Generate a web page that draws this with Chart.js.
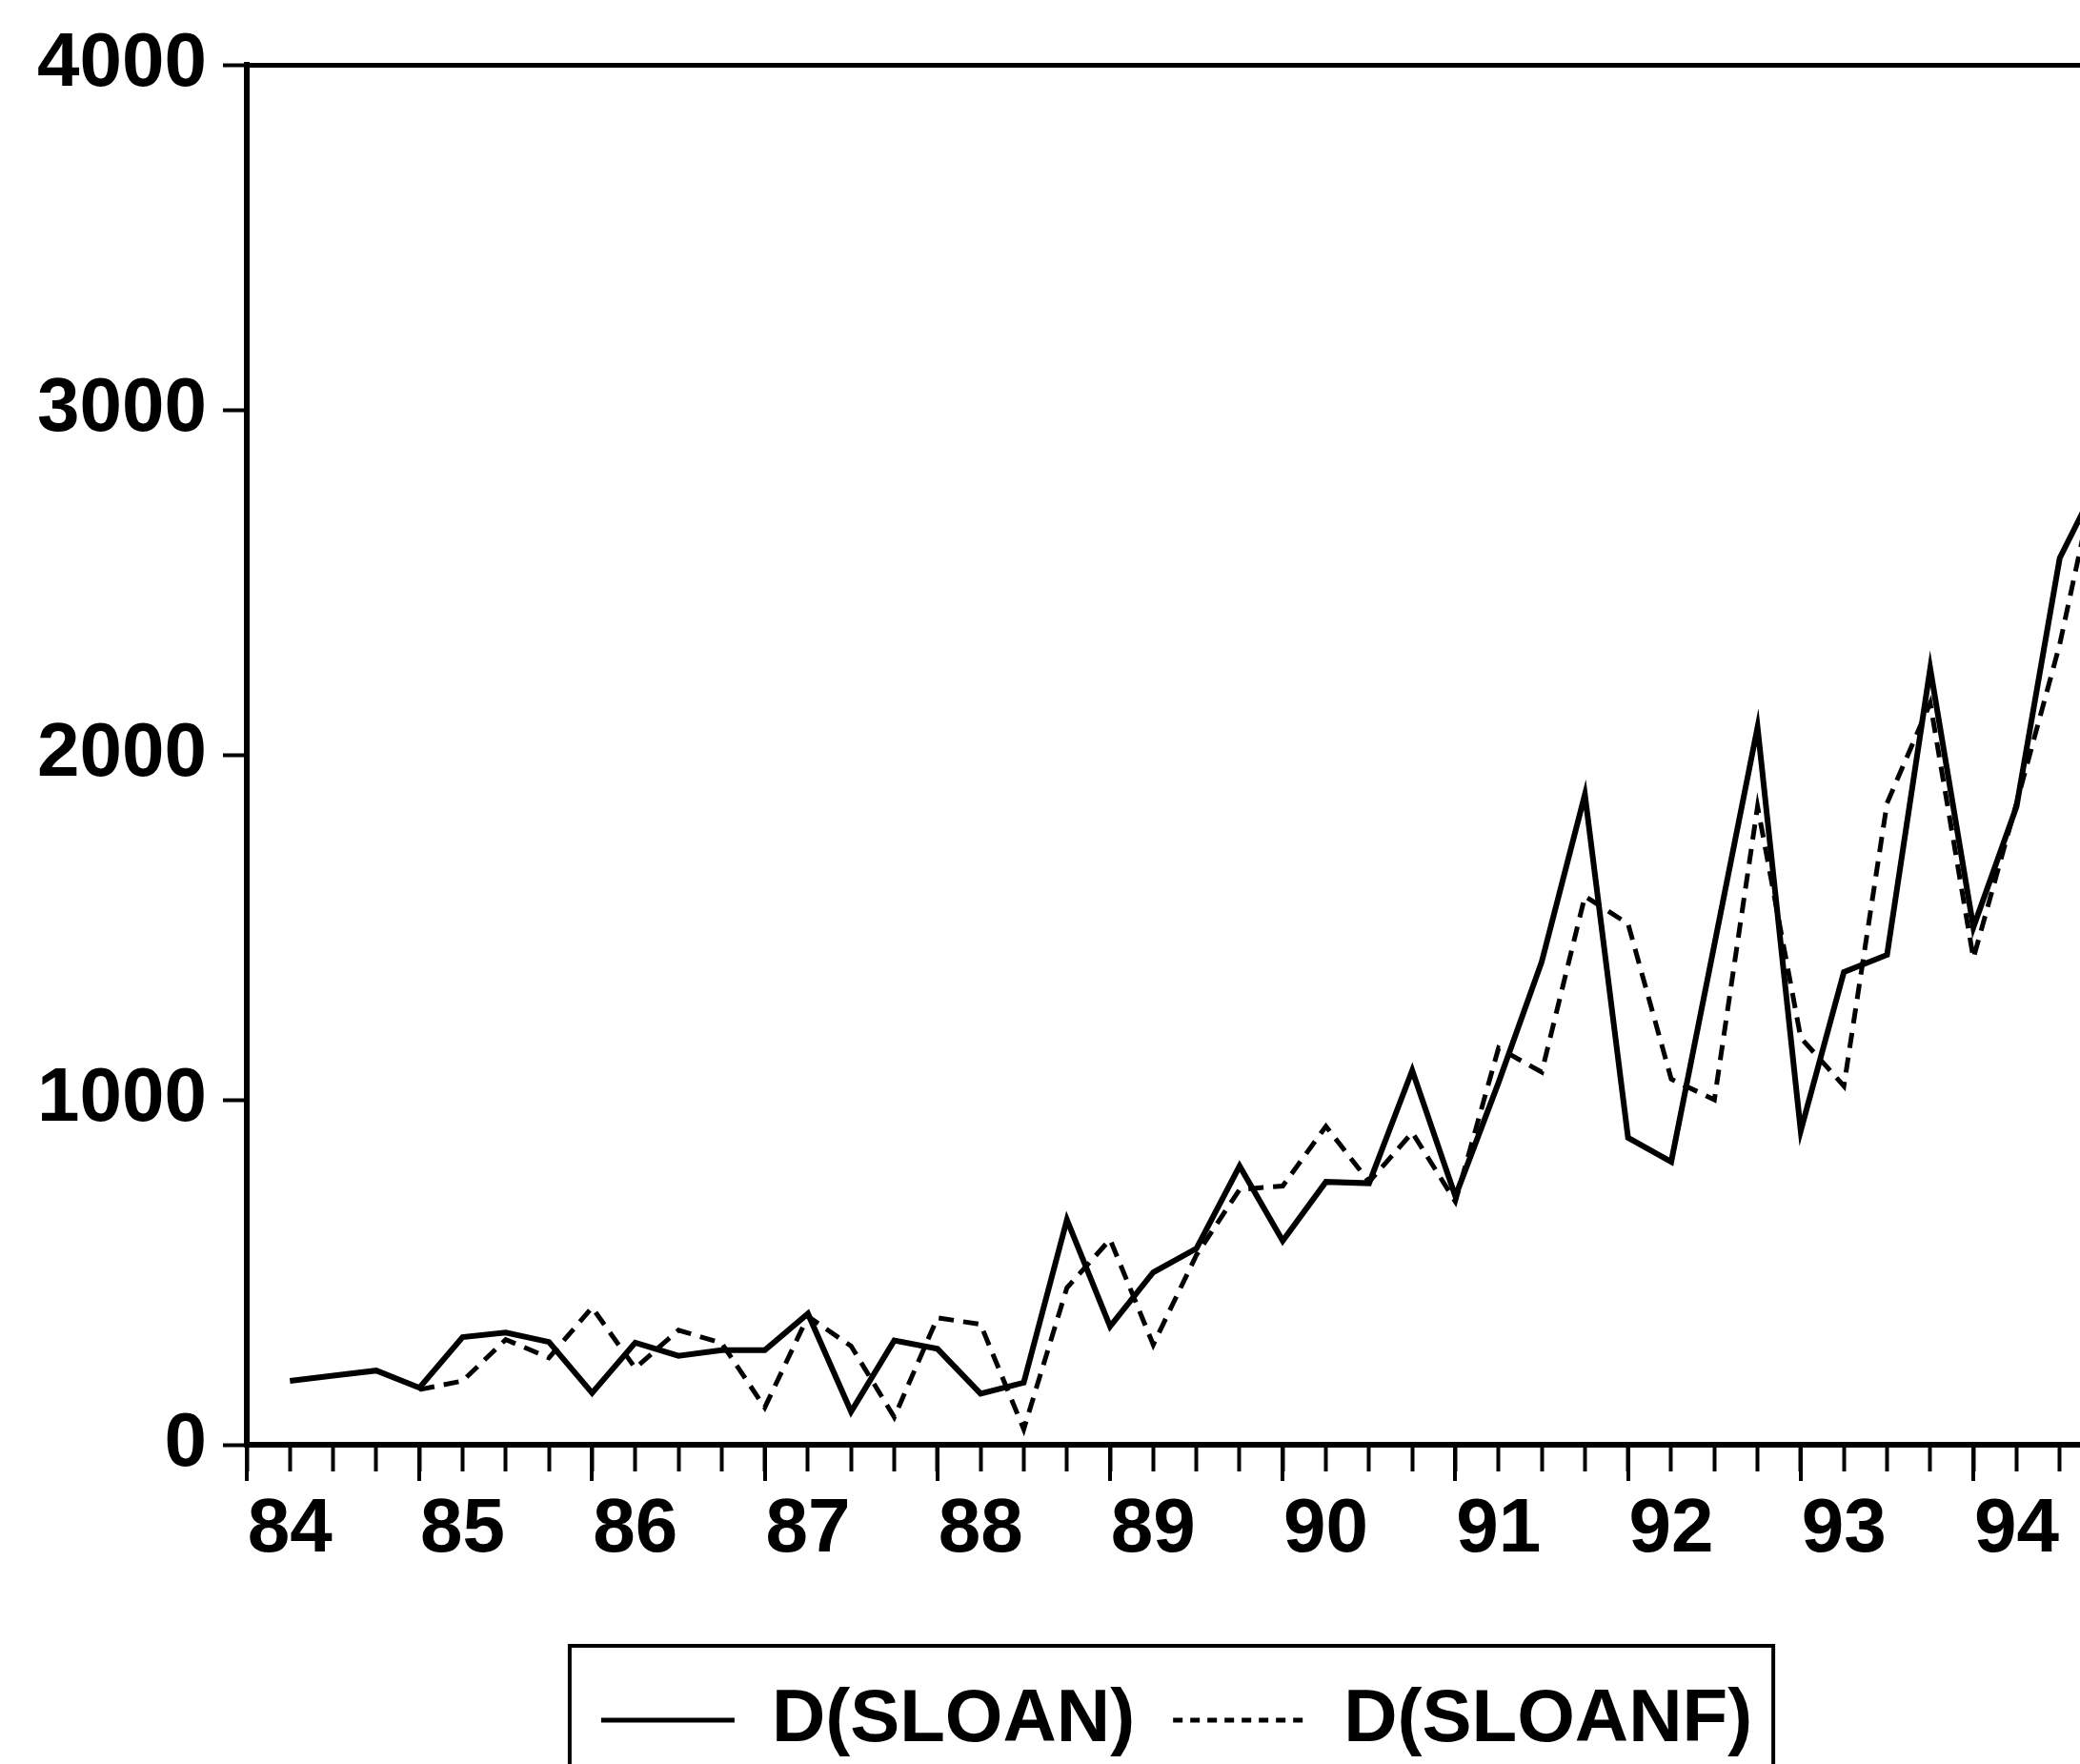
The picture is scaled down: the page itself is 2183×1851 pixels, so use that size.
<!DOCTYPE html>
<html>
<head>
<meta charset="utf-8">
<title>D(SLOAN) vs D(SLOANF)</title>
<script src="https://cdn.jsdelivr.net/npm/chart.js@4.4.1/dist/chart.umd.min.js"></script>
<style>
  html, body { margin: 0; padding: 0; background: #fff; }
  #wrap { width: 2183px; height: 1851px; position: relative; }
</style>
</head>
<body>
<div id="wrap"><canvas id="chart"></canvas></div>
<script>
// quarterly observations, 1984Q1 .. 1994Q4
const quarters = [
    '84Q1', '84Q2', '84Q3', '84Q4', '85Q1', '85Q2', '85Q3', '85Q4',
    '86Q1', '86Q2', '86Q3', '86Q4', '87Q1', '87Q2', '87Q3', '87Q4',
    '88Q1', '88Q2', '88Q3', '88Q4', '89Q1', '89Q2', '89Q3', '89Q4',
    '90Q1', '90Q2', '90Q3', '90Q4', '91Q1', '91Q2', '91Q3', '91Q4',
    '92Q1', '92Q2', '92Q3', '92Q4', '93Q1', '93Q2', '93Q3', '93Q4',
    '94Q1', '94Q2', '94Q3', '94Q4',
];
const yearLabels = ['84', '85', '86', '87', '88', '89', '90', '91', '92', '93', '94'];
const yTicks = [0, 1000, 2000, 3000, 4000];

const dSloan = [
    null, 185, 200, 215, 165, 312, 325, 298,
    150, 296, 258, 274, 274, 380, 96, 302,
    278, 148, 180, 652, 343, 500, 569, 808,
    591, 762, 758, 1085, 720, 1050, 1400, 1885,
    890, 820, 1450, 2080, 910, 1370, 1420, 2250,
    1500, 1850, 2570, 2820,
];
const dSloanF = [
    null, null, null, null, 160, 185, 305, 252,
    398, 222, 332, 295, 108, 372, 286, 80,
    368, 349, 45, 455, 595, 290, 550, 740,
    750, 923, 762, 905, 705, 1150, 1080, 1590,
    1510, 1060, 1000, 1850, 1180, 1040, 1860, 2150,
    1410, 1860, 2320, 2900,
];

const ink = '#000';
const font = { family: "'Liberation Sans', Arial, sans-serif", size: 80, weight: 'bold' };

// the scan is cropped on the right, roughly half way into 94Q3
const xMax = 42.47;
const plotBottom = 1516;
const legendSize = 78;
const legendPad = 40;
// Chart.js sizes a bottom legend as item height + padding + 10
const legendHeight = legendSize + legendPad + 10;
const legendShift = { x: 14, y: 3 };

const toPoints = (arr) => arr.map((v, i) => ({ x: i, y: v }));

// nudges the legend, draws its frame (cut off by the bottom edge like the scan)
// and lengthens the tick at the start of each year
const legendFrame = {
    id: 'legendFrame',
    afterLayout(chart) {
        const lg = chart.legend;
        lg.left += legendShift.x;
        lg.right += legendShift.x;
        lg.top += legendShift.y;
        lg.bottom += legendShift.y;
    },
    afterDraw(chart) {
        const { ctx } = chart;
        const x = chart.scales.x;
        ctx.save();
        ctx.strokeStyle = ink;
        ctx.lineWidth = 4;
        quarters.forEach((q, i) => {
            if (i % 4 !== 0 || i > xMax) return;
            const px = Math.round(x.getPixelForValue(i));
            ctx.beginPath();
            ctx.moveTo(px, x.top);
            ctx.lineTo(px, x.top + 38);
            ctx.stroke();
        });

        const boxes = chart.legend.legendHitBoxes;
        if (boxes && boxes.length) {
            const first = boxes[0];
            const last = boxes[boxes.length - 1];
            const left = first.left - 33;
            const right = last.left + last.width + 22;
            const top = first.top - 39;
            ctx.strokeRect(left, top, right - left, chart.height + 20 - top);
        }
        ctx.restore();
    },
};

new Chart(document.getElementById('chart'), {
    type: 'line',
    data: {
        datasets: [
            {
                label: 'D(SLOAN)',
                data: toPoints(dSloan),
                borderColor: ink,
                borderWidth: 6,
                pointRadius: 0,
                tension: 0,
            },
            {
                label: 'D(SLOANF)',
                data: toPoints(dSloanF),
                borderColor: ink,
                borderWidth: 5,
                borderDash: [16, 10],
                pointRadius: 0,
                tension: 0,
            },
        ],
    },
    options: {
        responsive: true,
        maintainAspectRatio: false,
        devicePixelRatio: 1,
        animation: false,
        layout: { padding: { top: 68, right: 0, left: 0, bottom: 0 } },
        plugins: {
            tooltip: { enabled: false },
            legend: {
                position: 'bottom',
                fullSize: false,
                labels: {
                    usePointStyle: true,
                    pointStyleWidth: 140,
                    padding: legendPad,
                    color: ink,
                    font: { ...font, size: legendSize },
                    generateLabels: (chart) => chart.data.datasets.map((ds, i) => ({
                        text: ds.label,
                        datasetIndex: i,
                        fillStyle: ink,
                        strokeStyle: ink,
                        fontColor: ink,
                        lineWidth: 5,
                        lineDash: ds.borderDash ? [10, 8] : [],
                        lineCap: 'butt',
                        pointStyle: 'line',
                    })),
                },
            },
        },
        scales: {
            x: {
                type: 'linear',
                min: 0,
                max: xMax,
                afterFit: (scale) => {
                    scale.height = 1851 - legendHeight - plotBottom;
                },
                afterBuildTicks: (scale) => {
                    scale.ticks = quarters
                        .map((q, i) => ({ value: i }))
                        .filter((t) => t.value <= xMax);
                },
                grid: {
                    drawOnChartArea: false,
                    drawTicks: true,
                    tickLength: 28,
                    tickWidth: 4,
                    tickColor: ink,
                },
                border: { display: true, color: ink, width: 6 },
                ticks: {
                    autoSkip: false,
                    maxRotation: 0,
                    minRotation: 0,
                    padding: 14,
                    color: ink,
                    font,
                    // year label sits under the second quarter
                    callback: (value) => (value % 4 === 1 ? yearLabels[(value - 1) / 4] : ''),
                },
            },
            y: {
                min: 0,
                max: 4000,
                afterFit: (scale) => {
                    scale.width = 259;
                },
                afterBuildTicks: (scale) => {
                    scale.ticks = yTicks.map((v) => ({ value: v }));
                },
                grid: {
                    drawOnChartArea: true,
                    color: (ctx) => (ctx.tick && ctx.tick.value === 4000 ? ink : 'rgba(0,0,0,0)'),
                    lineWidth: 5,
                    tickLength: 25,
                    tickWidth: 4,
                    tickColor: ink,
                },
                border: { display: true, color: ink, width: 6 },
                ticks: {
                    padding: 17,
                    color: ink,
                    font,
                    callback: (value) => String(value),
                },
            },
        },
    },
    plugins: [legendFrame],
});
</script>
</body>
</html>
